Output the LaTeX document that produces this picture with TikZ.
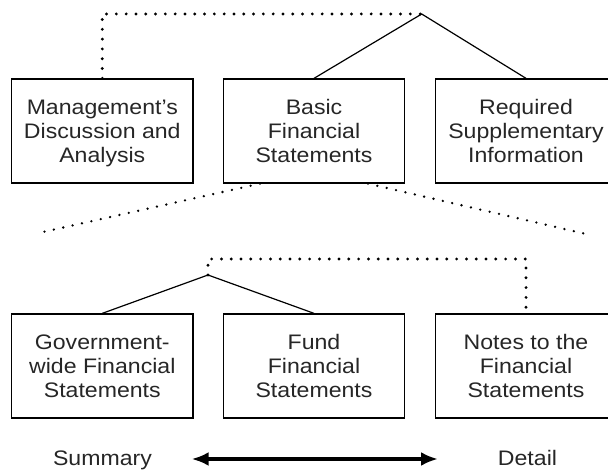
\documentclass[tikz,border=0pt]{standalone}
\usepackage{fontspec}
\setmainfont{Liberation Sans}[FakeStretch=1.1]
\usetikzlibrary{arrows.meta}

\tikzset{
	fsbox/.style={draw, line width=1.3pt, minimum width=181.5pt, minimum height=104pt,
		inner sep=0pt, align=center, text depth=0pt, text=black!85,
		font=\fontsize{21}{24}\selectfont},
	dotline/.style={line width=3.2pt, line cap=round, dash pattern=on 0pt off 9.8pt},
	thindot/.style={line width=2.6pt, line cap=round, dash pattern=on 0pt off 9.6pt},
	tieline/.style={line width=1.2pt},
	scalelbl/.style={anchor=base, inner sep=0pt, text=black!85, font=\fontsize{21}{24}\selectfont}
}

\begin{document}
\begin{tikzpicture}[x=1pt,y=-1pt]
	\useasboundingbox (0,0) rectangle (608,470);
	% top row
	\node[fsbox] (mda) at (102.3,131) {Management's\\Discussion and\\Analysis};
	\node[fsbox] (bfs) at (314,131) {Basic\\Financial\\Statements};
	\node[fsbox] (rsi) at (526,131) {Required\\Supplementary\\Information};
	\coordinate (top) at (421.7,14);
	\draw[tieline] (bfs.north) -- (top) -- (rsi.north);
	\draw[dotline] (mda.north) |- (top);
	% fan out of the basic statements
	\coordinate (fanL) at (43,232);
	\coordinate (fanR) at (586,234);
	\draw[thindot] ([xshift=-54pt]bfs.south) -- (fanL);
	\draw[thindot] ([xshift=54pt]bfs.south) -- (fanR);
	% bottom row
	\node[fsbox] (gwfs) at (102.3,366) {Government-\\wide Financial\\Statements};
	\node[fsbox] (ffs) at (314,366) {Fund\\Financial\\Statements};
	\node[fsbox] (notes) at (526,366) {Notes to the\\Financial\\Statements};
	\coordinate (mid) at (208,275);
	\coordinate (midtop) at (208,259);
	\draw[tieline] (gwfs.north) -- (mid) -- (ffs.north);
	\draw[dotline] (mid) -- (midtop) -| (notes.north);
	% scale
	\node[scalelbl] (summ) at (102.5,465.7) {Summary};
	\node[scalelbl] (detl) at (527.5,465.7) {Detail};
	\coordinate (arrL) at (191.7,459);
	\coordinate (arrR) at (438,459);
	\draw[{Latex[length=17pt,width=14pt]}-{Latex[length=17pt,width=14pt]}, line width=4.5pt] (arrL) -- (arrR);
\end{tikzpicture}
\end{document}
